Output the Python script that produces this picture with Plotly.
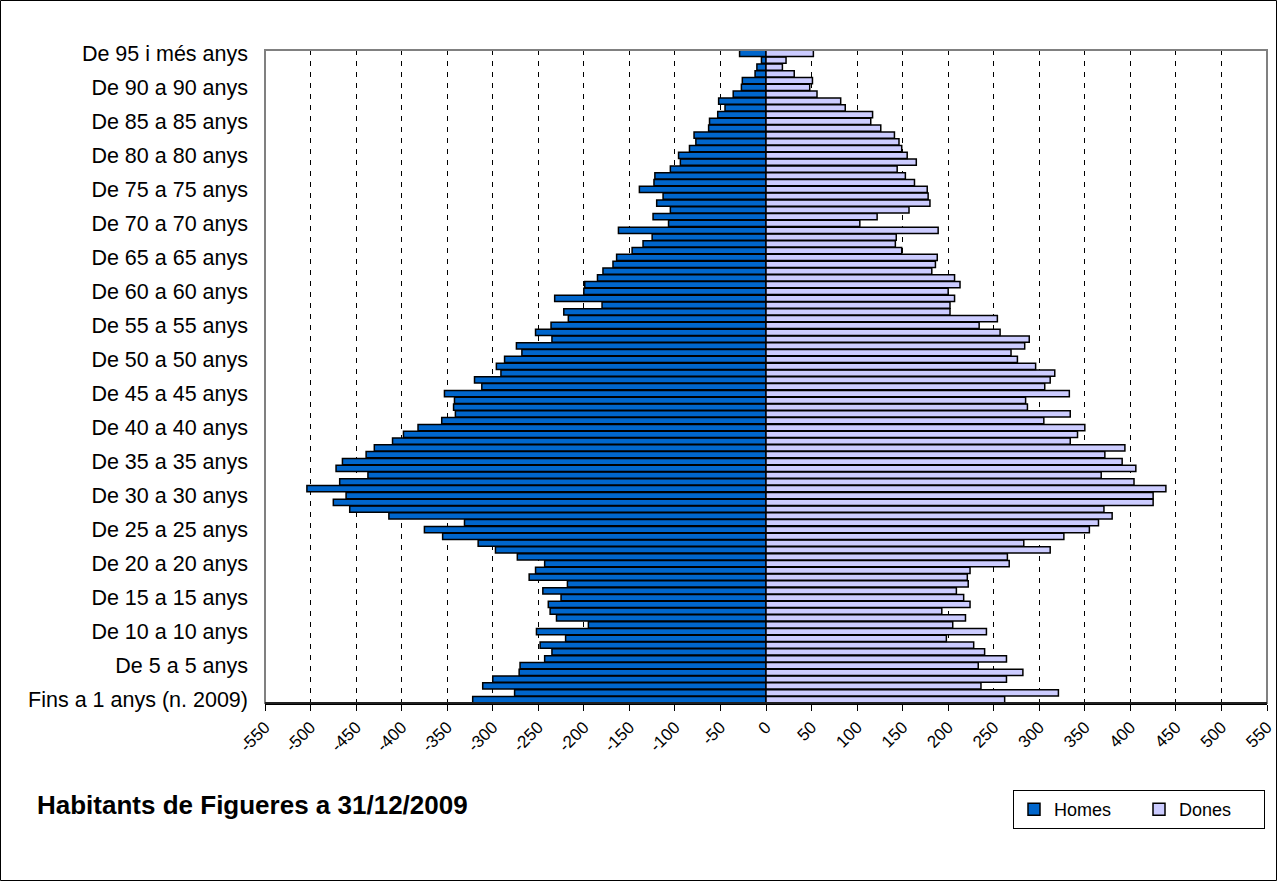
import plotly.graph_objects as go

# Age groups 0..95 (bottom to top)
categories = ["Fins a 1 anys (n. 2009)"] + [f"De {i} a {i} anys" for i in range(1, 95)] + ["De 95 i més anys"]

homes = [322, 276, 311, 300, 271, 270, 243, 235, 248, 220,
         252, 195, 230, 237, 239, 225, 245, 218, 260, 253,
         243, 273, 297, 316, 355, 375, 331, 414, 457, 475,
         461, 504, 468, 437, 472, 465, 439, 430, 410, 398,
         382, 356, 341, 343, 342, 353, 312, 320, 291, 296,
         287, 268, 274, 235, 253, 236, 217, 222, 180, 232,
         200, 199, 185, 179, 168, 164, 147, 135, 125, 162,
         107, 124, 105, 120, 113, 139, 123, 122, 105, 94,
         96, 84, 77, 79, 63, 62, 53, 45, 52, 36,
         27, 26, 12, 10, 5, 29]

dones = [262, 321, 236, 264, 282, 233, 264, 240, 228, 198,
         242, 205, 219, 193, 224, 217, 209, 222, 221, 224,
         267, 265, 312, 283, 327, 355, 365, 380, 371, 425,
         425, 439, 404, 368, 406, 391, 372, 394, 334, 342,
         350, 305, 334, 287, 285, 333, 306, 312, 317, 296,
         276, 269, 284, 289, 257, 234, 254, 202, 202, 207,
         200, 213, 207, 182, 186, 188, 149, 142, 143, 189,
         103, 122, 157, 180, 178, 177, 163, 153, 144, 165,
         155, 149, 146, 141, 126, 115, 117, 87, 82, 56,
         48, 51, 31, 18, 22, 52]

x_ticks = list(range(-550, 551, 50))
y_ticks = categories[::5]

fig = go.Figure()
fig.add_trace(go.Bar(
    y=categories, x=[-v for v in homes], orientation="h", name="Homes",
    marker=dict(color="#0066CC", line=dict(color="black", width=1.5)),
))
fig.add_trace(go.Bar(
    y=categories, x=dones, orientation="h", name="Dones",
    marker=dict(color="#CCCCFF", line=dict(color="black", width=1.5)),
))

L, R, T, B = 265, 1267, 50, 703
W, H = 1278, 882
pw, ph = R - L, B - T

fig.update_layout(
    width=W, height=H,
    margin=dict(l=L, r=W - R, t=T, b=H - B, pad=0, autoexpand=False),
    paper_bgcolor="white", plot_bgcolor="white",
    barmode="overlay", bargap=0.08,
    font=dict(family="Liberation Sans, Arial, sans-serif", color="black"),
    xaxis=dict(
        range=[-550, 550], tickmode="array", tickvals=x_ticks,
        ticktext=[str(v) for v in x_ticks], tickangle=-45,
        tickfont=dict(size=17), ticks="outside", ticklen=6, tickcolor="black",
        showgrid=True, gridcolor="black", gridwidth=1, griddash="5px,6px",
        zeroline=True, zerolinecolor="black", zerolinewidth=2,
        showline=True, linecolor="black", linewidth=1.5, automargin=False,
    ),
    yaxis=dict(
        type="category", categoryorder="array", categoryarray=categories,
        tickmode="array", tickvals=y_ticks, ticktext=y_ticks,
        tickfont=dict(size=21.5), ticks="", showgrid=False, zeroline=False,
        showline=False, ticklabelstandoff=16, automargin=False,
    ),
    legend=dict(
        orientation="h", x=(1265 - L) / pw, xanchor="right",
        y=(B - 790) / ph, yanchor="top",
        bordercolor="black", borderwidth=1, bgcolor="white",
        font=dict(size=18), traceorder="normal",
        entrywidth=80, entrywidthmode="pixels",
        tracegroupgap=0, itemwidth=30,
    ),
    showlegend=True,
)

# plot area frame (grey)
fig.add_shape(type="rect", xref="paper", yref="paper", x0=0, x1=1, y0=0, y1=1,
              line=dict(color="#808080", width=2), layer="above")
# bottom axis line black on top of frame
fig.add_shape(type="line", xref="paper", yref="paper", x0=0, x1=1, y0=0, y1=0,
              line=dict(color="black", width=1.5), layer="above")
# outer chart border
fig.add_shape(type="rect", xref="paper", yref="paper",
              x0=(0.5 - L) / pw, x1=(W - 1.5 - L) / pw,
              y0=(B - (H - 1.5)) / ph, y1=(B - 0.5) / ph,
              line=dict(color="black", width=1))

fig.add_annotation(
    text="<b>Habitants de Figueres a 31/12/2009</b>",
    xref="paper", yref="paper", x=(35 - L) / pw, xanchor="left",
    y=(B - 805) / ph, yanchor="middle", showarrow=False,
    font=dict(size=26, color="black"),
)

fig.write_html("out.html", config={"displayModeBar": False},
               post_script="document.body.style.margin='0';document.body.style.overflow='hidden';")
